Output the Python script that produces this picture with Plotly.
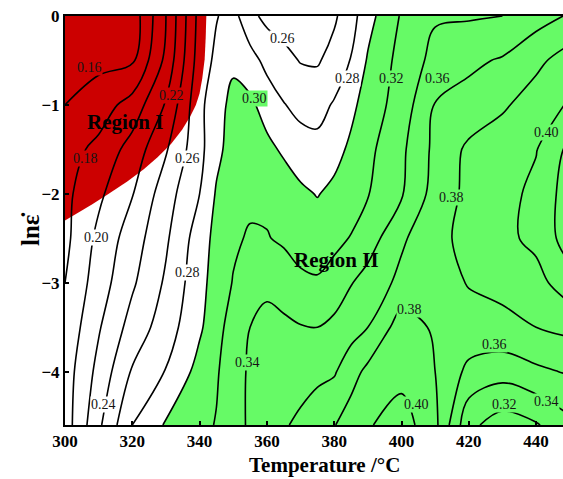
import plotly.graph_objects as go

# Processing-map grid: temperature (°C) and strain-rate log (ln ε̇)
temperature = [300, 310, 320, 330, 340, 345, 350, 355, 360, 365, 370, 375, 380, 385, 390,
               400, 410, 420, 430, 440, 450]
ln_strain_rate = [0.0, -0.5, -1.0, -1.5, -2.0, -2.5, -3.0, -3.5, -4.0, -4.6]

# Power dissipation efficiency, one row per ln ε̇ value
efficiency = [
    [0.130, 0.145, 0.148, 0.200, 0.267, 0.279, 0.287, 0.265, 0.255, 0.251, 0.249, 0.251, 0.257, 0.272, 0.293,
     0.322, 0.338, 0.338, 0.340, 0.352, 0.362],
    [0.145, 0.155, 0.157, 0.205, 0.270, 0.284, 0.296, 0.288, 0.274, 0.266, 0.259, 0.258, 0.267, 0.281, 0.302,
     0.327, 0.346, 0.356, 0.362, 0.375, 0.390],
    [0.160, 0.170, 0.188, 0.222, 0.275, 0.292, 0.306, 0.304, 0.292, 0.281, 0.274, 0.273, 0.282, 0.295, 0.309,
     0.329, 0.361, 0.367, 0.377, 0.390, 0.402],
    [0.172, 0.185, 0.208, 0.238, 0.274, 0.295, 0.308, 0.310, 0.305, 0.297, 0.289, 0.286, 0.293, 0.304, 0.315,
     0.336, 0.365, 0.384, 0.392, 0.399, 0.425],
    [0.175, 0.196, 0.219, 0.251, 0.280, 0.302, 0.312, 0.316, 0.316, 0.311, 0.304, 0.299, 0.305, 0.311, 0.319,
     0.338, 0.368, 0.385, 0.393, 0.405, 0.430],
    [0.175, 0.205, 0.230, 0.257, 0.290, 0.306, 0.317, 0.322, 0.321, 0.317, 0.312, 0.311, 0.315, 0.321, 0.330,
     0.357, 0.374, 0.386, 0.395, 0.405, 0.430],
    [0.180, 0.210, 0.237, 0.263, 0.293, 0.309, 0.321, 0.331, 0.337, 0.331, 0.324, 0.322, 0.328, 0.339, 0.348,
     0.365, 0.372, 0.381, 0.385, 0.393, 0.412],
    [0.185, 0.218, 0.248, 0.270, 0.297, 0.312, 0.330, 0.340, 0.344, 0.344, 0.341, 0.340, 0.345, 0.352, 0.360,
     0.390, 0.377, 0.373, 0.375, 0.380, 0.385],
    [0.190, 0.226, 0.262, 0.281, 0.307, 0.318, 0.331, 0.343, 0.347, 0.350, 0.352, 0.355, 0.358, 0.372, 0.385,
     0.393, 0.380, 0.355, 0.348, 0.356, 0.362],
    [0.190, 0.236, 0.280, 0.302, 0.315, 0.321, 0.332, 0.343, 0.350, 0.358, 0.364, 0.372, 0.379, 0.390, 0.398,
     0.410, 0.385, 0.325, 0.310, 0.318, 0.335],
]

# Contour levels
level_start, level_end, level_step = 0.16, 0.42, 0.02
# Region II: efficiency at or above this value
region_II_threshold = 0.30

# Region I (instability) outline
region_I_T = [300.0, 342.0, 341.8, 341.5, 340.8, 340.0, 338.9, 337.2, 334.8, 331.5, 327.5,
              323.5, 318.5, 313.0, 308.0, 304.0, 300.0]
region_I_lne = [0.0, 0.0, -0.25, -0.49, -0.70, -0.87, -1.00, -1.13, -1.28, -1.44, -1.59,
                -1.72, -1.86, -2.00, -2.12, -2.21, -2.30]

# Contour label placement: (level, temperature, ln ε̇, background)
RED = "rgb(204,0,0)"
GREEN = "rgb(102,250,102)"
WHITE = "white"
contour_labels = [
    (0.16, 307.3, -0.58, RED),
    (0.18, 306.1, -1.60, RED),
    (0.22, 331.6, -0.89, RED),
    (0.26, 336.4, -1.60, WHITE),
    (0.20, 309.4, -2.49, WHITE),
    (0.28, 336.3, -2.89, WHITE),
    (0.24, 311.5, -4.37, WHITE),
    (0.26, 364.7, -0.25, WHITE),
    (0.28, 383.9, -0.70, WHITE),
    (0.30, 356.3, -0.93, GREEN),
    (0.32, 397.0, -0.70, GREEN),
    (0.36, 410.7, -0.70, GREEN),
    (0.40, 443.1, -1.31, GREEN),
    (0.38, 414.8, -2.04, GREEN),
    (0.34, 354.2, -3.90, GREEN),
    (0.38, 402.4, -3.30, GREEN),
    (0.36, 427.6, -3.70, GREEN),
    (0.40, 404.5, -4.37, GREEN),
    (0.32, 430.6, -4.37, GREEN),
    (0.34, 443.1, -4.34, GREEN),
]

region_names = [("Region I", 317.7, -1.19), ("Region II", 380.7, -2.74)]

x_ticks = [300, 320, 340, 360, 380, 400, 420, 440]
y_ticks = [0, -1, -2, -3, -4]

SERIF = "Liberation Serif, Times New Roman, serif"
SMOOTH = 1.0

fig = go.Figure()

# Region II fill: a constraint contour shades where the constraint fails,
# so "<" shades everything at or above the threshold
fig.add_trace(go.Contour(
    x=temperature, y=ln_strain_rate, z=efficiency,
    contours=dict(type="constraint", operation="<", value=region_II_threshold),
    fillcolor=GREEN,
    line=dict(width=0, smoothing=SMOOTH),
    showscale=False, hoverinfo="skip",
))

# Iso-efficiency lines
fig.add_trace(go.Contour(
    x=temperature, y=ln_strain_rate, z=efficiency,
    contours=dict(coloring="none", start=level_start, end=level_end, size=level_step,
                  showlabels=False),
    line=dict(color="black", width=1.6, smoothing=SMOOTH),
    showscale=False, hoverinfo="skip",
))

# Region I fill, kept beneath the iso-efficiency lines
region_I_path = "M " + " L ".join(f"{t},{e}" for t, e in zip(region_I_T, region_I_lne)) + " Z"
shapes = [dict(type="path", path=region_I_path, xref="x", yref="y",
               fillcolor=RED, line=dict(width=0), layer="below")]

annotations = []
for level, t, lne, bg in contour_labels:
    annotations.append(dict(
        x=t, y=lne, xref="x", yref="y", text=f"{level:.2f}", showarrow=False,
        font=dict(family=SERIF, size=14, color="#151515"),
        bgcolor=bg, borderpad=0,
    ))
for name, t, lne in region_names:
    annotations.append(dict(
        x=t, y=lne, xref="x", yref="y", text=name, showarrow=False,
        font=dict(family=SERIF, size=21, color="black", weight="bold"),
    ))

W, H = 563, 479
ML, MT, MB = 65, 16, 54


def paper_xy(px, py):
    return (px - ML) / (W - ML), (H - MB - py) / (H - MT - MB)


# Axis titles
tx, ty = paper_xy(324, 465)
annotations.append(dict(
    x=tx, y=ty, xref="paper", yref="paper", xanchor="center", yanchor="middle",
    text="Temperature /°C", showarrow=False,
    font=dict(family=SERIF, size=21, color="black", weight="bold"),
))
tx, ty = paper_xy(30, 229)
annotations.append(dict(
    x=tx, y=ty, xref="paper", yref="paper", xanchor="center", yanchor="middle",
    text="lnε̇", showarrow=False, textangle=-90,
    font=dict(family=SERIF, size=25, color="black", weight="bold"),
))

fig.update_layout(
    width=W, height=H,
    margin=dict(l=ML, r=0, t=MT, b=MB, pad=0),
    paper_bgcolor="white", plot_bgcolor="white",
    showlegend=False,
    shapes=shapes,
    annotations=annotations,
    xaxis=dict(
        range=[300, 300 + (W - ML) / 3.365], tickvals=x_ticks, ticks="inside", ticklen=4,
        tickwidth=1.5, tickcolor="black", showline=True, linecolor="black", linewidth=2,
        mirror=True, showgrid=False, zeroline=False,
        tickfont=dict(family=SERIF, size=17, color="black", weight="bold"),
    ),
    yaxis=dict(
        range=[-4.6, 0], tickvals=y_ticks, ticks="inside", ticklen=4, tickwidth=1.5,
        tickcolor="black", showline=True, linecolor="black", linewidth=2,
        showgrid=False, zeroline=False,
        tickfont=dict(family=SERIF, size=17, color="black", weight="bold"),
    ),
)

fig.write_html("out.html")
